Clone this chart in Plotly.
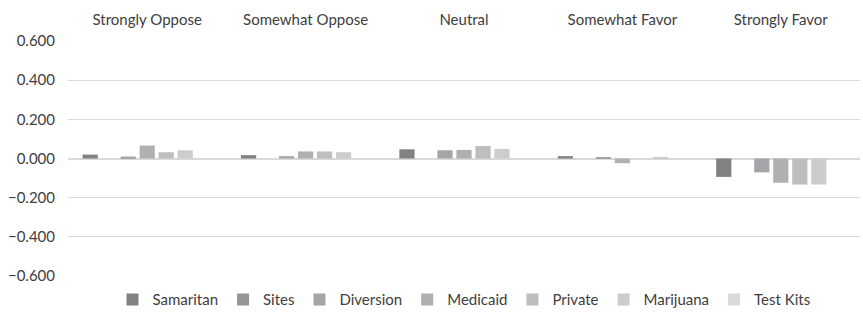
import plotly.graph_objects as go

categories = ["Strongly Oppose", "Somewhat Oppose", "Neutral", "Somewhat Favor", "Strongly Favor"]

samaritan = [0.020, 0.017, 0.047, 0.012, -0.094]
sites = [0.0, 0.0, 0.0, 0.0, 0.0]
diversion = [0.010, 0.012, 0.042, 0.006, -0.071]
medicaid = [0.066, 0.036, 0.044, -0.024, -0.124]
private = [0.032, 0.036, 0.064, 0.0, -0.133]
marijuana = [0.042, 0.032, 0.049, 0.008, -0.133]
test_kits = [0.0, 0.0, 0.0, 0.0, 0.0]

series = [
    ("Samaritan", samaritan, "#818181"),
    ("Sites", sites, "#959595"),
    ("Diversion", diversion, "#a3a6a9"),
    ("Medicaid", medicaid, "#b0b0b0"),
    ("Private", private, "#bebebe"),
    ("Marijuana", marijuana, "#cccccc"),
    ("Test Kits", test_kits, "#d9d9d9"),
]

font_family = "Lato, 'Open Sans', sans-serif"
text_color = "#404040"

fig = go.Figure()
for name, vals, color in series:
    fig.add_trace(go.Bar(
        name=name, x=categories, y=vals,
        marker=dict(color=color, line=dict(width=0)),
    ))

fig.update_layout(
    width=863, height=321,
    margin=dict(l=68, r=3, t=41, b=45, autoexpand=False),
    paper_bgcolor="white", plot_bgcolor="white",
    barmode="group", bargap=0.16, bargroupgap=0.2,
    font=dict(family=font_family, size=15, color=text_color),
    showlegend=True,
    legend=dict(
        orientation="h", x=0.5, xanchor="center",
        yref="container", y=0.015, yanchor="bottom",
        font=dict(size=15, color=text_color), itemwidth=30,
        tracegroupgap=0,
    ),
    xaxis=dict(
        side="top", showgrid=False, showline=False, ticks="",
        ticklabelstandoff=12,
        tickfont=dict(size=15, color=text_color),
    ),
    yaxis=dict(
        range=[-0.6, 0.6], dtick=0.2, tickformat=".3f",
        showgrid=True, gridcolor="#d9d9d9", gridwidth=1,
        zeroline=True, zerolinecolor="#d9d9d9", zerolinewidth=1.5,
        showline=False, ticks="", ticklen=0,
        ticklabelstandoff=12,
        tickfont=dict(size=15, color=text_color),
    ),
)

fig.write_html("out.html")
